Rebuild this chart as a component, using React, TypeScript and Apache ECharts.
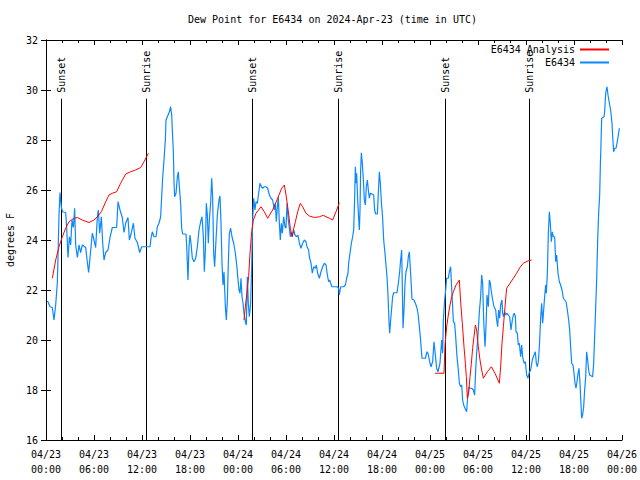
import React, { useEffect, useRef } from "react";
import * as echarts from "echarts";

// hours since 2024-04-23 00:00 UTC, dew point in degrees F
const stationObs: [number, number][] = [
  [0.1, 21.55], [0.25, 21.53], [0.5, 21.33], [0.79, 21.3], [1.0, 20.8], [1.21, 21.4], [1.42, 22.3],
  [1.625, 25.0], [1.75, 25.9], [1.92, 25.3], [2.08, 25.13], [2.46, 25.1], [2.58, 24.5], [2.75, 23.3],
  [2.92, 24.13], [3.08, 23.8], [3.25, 24.8], [3.42, 24.5], [3.58, 25.27], [3.71, 23.8], [3.92, 23.3],
  [4.125, 23.8], [4.33, 23.5], [4.54, 23.8], [4.96, 23.7], [5.17, 23.1], [5.33, 22.7], [5.5, 23.3],
  [5.79, 24.27], [6.0, 24.0], [6.21, 23.7], [6.42, 24.93], [6.54, 25.2], [6.71, 24.27], [6.92, 24.93],
  [7.08, 23.9], [7.25, 23.2], [7.46, 23.5], [7.75, 23.6], [8.0, 24.1], [8.29, 24.5], [8.58, 24.5],
  [8.83, 24.5], [9.0, 25.53], [9.25, 25.2], [9.54, 24.9], [9.75, 24.3], [9.96, 24.67], [10.25, 24.9],
  [10.42, 24.0], [10.67, 24.3], [10.92, 24.67], [11.125, 24.07], [11.42, 23.9], [11.71, 23.5],
  [11.96, 23.73], [12.58, 23.73], [13.0, 23.73], [13.125, 24.07], [13.29, 24.33], [13.5, 24.13],
  [13.75, 24.13], [13.92, 24.53], [14.125, 24.67], [14.33, 24.93], [14.46, 25.73], [14.58, 26.47],
  [14.75, 27.2], [14.92, 28.0], [15.0, 28.8], [15.17, 28.93], [15.42, 29.13], [15.58, 29.33],
  [15.71, 29.0], [15.79, 28.4], [15.92, 27.53], [16.0, 26.33], [16.08, 25.73], [16.25, 25.87],
  [16.42, 26.53], [16.54, 26.73], [16.67, 26.13], [16.83, 25.47], [16.96, 24.47], [17.08, 24.24],
  [17.5, 24.24], [17.58, 23.8], [17.75, 22.4], [17.875, 23.73], [18.0, 24.2], [18.125, 23.87],
  [18.29, 23.27], [18.5, 23.13], [18.71, 23.27], [18.92, 23.73], [19.125, 24.4], [19.33, 24.73],
  [19.5, 24.93], [19.67, 24.13], [19.79, 22.73], [19.92, 23.6], [20.04, 25.47], [20.17, 25.0],
  [20.29, 23.87], [20.42, 24.8], [20.58, 25.47], [20.71, 26.47], [20.83, 25.73], [20.96, 23.47],
  [21.08, 22.93], [21.25, 24.0], [21.42, 25.0], [21.625, 25.6], [21.75, 25.76], [21.875, 24.67],
  [22.0, 23.07], [22.125, 22.2], [22.25, 22.73], [22.42, 21.33], [22.54, 20.8], [22.67, 21.6],
  [22.79, 23.07], [22.92, 24.27], [23.08, 24.47], [23.25, 24.13], [23.46, 23.87], [23.67, 23.47],
  [23.875, 22.9], [24.0, 22.4], [24.125, 22.0], [24.25, 21.87], [24.375, 22.47], [24.5, 21.73],
  [24.625, 21.47], [24.75, 21.07], [24.92, 20.73], [25.04, 20.6], [25.17, 22.53], [25.29, 21.47],
  [25.42, 20.93], [25.58, 21.47], [25.71, 22.93], [25.83, 24.8], [25.96, 25.67], [26.125, 25.2],
  [26.25, 25.53], [26.42, 25.47], [26.58, 25.87], [26.75, 26.27], [26.92, 26.13], [27.08, 26.07],
  [27.29, 26.13], [27.5, 26.13], [27.71, 26.07], [27.92, 25.8], [28.125, 25.67], [28.33, 25.6],
  [28.54, 25.2], [28.67, 25.47], [28.79, 24.73], [28.92, 25.33], [29.04, 25.73], [29.17, 24.67],
  [29.29, 24.0], [29.42, 24.67], [29.54, 24.27], [29.71, 24.93], [29.875, 24.53], [30.0, 24.47],
  [30.125, 25.47], [30.29, 24.8], [30.42, 24.47], [30.54, 24.13], [30.67, 24.33], [30.79, 24.13],
  [30.96, 24.4], [31.125, 24.2], [31.33, 24.13], [31.5, 24.2], [31.67, 23.87], [31.875, 23.67],
  [32.08, 23.87], [32.29, 24.0], [32.5, 23.93], [32.625, 23.73], [32.83, 23.6], [32.92, 23.33],
  [33.125, 23.07], [33.29, 22.67], [33.46, 22.93], [33.67, 22.87], [33.79, 23.0], [33.96, 22.67],
  [34.17, 22.47], [34.375, 22.73], [34.58, 22.93], [34.79, 23.07], [35.0, 23.0], [35.17, 22.6],
  [35.33, 22.33], [35.46, 22.4], [35.58, 22.27], [35.75, 22.13], [36.375, 22.13], [36.58, 22.07],
  [36.67, 21.8], [36.83, 22.13], [37.21, 22.13], [37.42, 22.2], [37.58, 22.47], [37.75, 22.67],
  [37.83, 23.07], [38.0, 23.47], [38.17, 23.87], [38.33, 24.13], [38.46, 24.4], [38.58, 25.67],
  [38.67, 26.93], [38.75, 26.27], [38.83, 26.67], [38.96, 25.6], [39.08, 24.87], [39.17, 24.4],
  [39.25, 25.2], [39.33, 26.8], [39.42, 27.49], [39.54, 27.07], [39.67, 26.4], [39.79, 25.6],
  [39.92, 25.4], [40.04, 26.13], [40.17, 26.4], [40.29, 26.0], [40.42, 25.67], [40.54, 25.87],
  [40.75, 25.84], [40.96, 25.8], [41.08, 25.2], [41.21, 25.04], [41.42, 25.04], [41.54, 25.87],
  [41.67, 26.73], [41.79, 26.27], [41.92, 25.53], [42.08, 24.87], [42.21, 24.0], [42.375, 23.47],
  [42.5, 23.0], [42.625, 22.53], [42.75, 21.8], [42.875, 20.73], [42.96, 20.27], [43.08, 20.8],
  [43.21, 21.27], [43.33, 21.73], [43.46, 21.89], [43.875, 21.89], [44.04, 22.27], [44.21, 22.73],
  [44.33, 23.2], [44.46, 23.6], [44.54, 22.13], [44.625, 20.47], [44.75, 21.2], [44.875, 22.27],
  [45.0, 22.73], [45.17, 22.93], [45.29, 23.33], [45.42, 23.53], [45.54, 22.87], [45.67, 22.13],
  [45.75, 21.63], [46.0, 21.6], [46.17, 21.47], [46.33, 21.33], [46.5, 21.07], [46.67, 20.53],
  [46.79, 20.13], [46.92, 19.6], [47.0, 19.27], [47.42, 19.27], [47.625, 19.53], [47.75, 19.47],
  [47.92, 19.2], [48.0, 19.07], [48.125, 18.93], [48.33, 19.13], [48.5, 19.93], [48.67, 19.4],
  [48.83, 18.87], [49.0, 18.73], [49.25, 19.07], [49.46, 20.0], [49.58, 19.47], [49.67, 20.8],
  [49.83, 21.6], [49.96, 22.0], [50.08, 22.47], [50.29, 22.47], [50.42, 22.73], [50.58, 22.93],
  [50.71, 22.07], [50.92, 20.73], [51.08, 20.67], [51.21, 20.13], [51.375, 19.33], [51.54, 18.8],
  [51.67, 18.27], [51.83, 18.13], [51.96, 18.2], [52.08, 17.6], [52.21, 17.4], [52.375, 17.27],
  [52.58, 17.13], [52.71, 17.73], [52.875, 18.13], [53.0, 18.07], [53.21, 18.07], [53.42, 18.0],
  [53.58, 17.8], [53.71, 18.8], [53.83, 19.47], [54.0, 20.2], [54.17, 21.13], [54.33, 21.73],
  [54.46, 22.6], [54.58, 22.27], [54.71, 20.8], [54.875, 19.73], [55.0, 20.53], [55.125, 21.8],
  [55.29, 21.33], [55.42, 22.4], [55.54, 22.27], [55.67, 21.93], [55.83, 21.6], [56.0, 21.33],
  [56.21, 21.2], [56.33, 20.8], [56.46, 20.53], [56.58, 21.2], [56.71, 20.87], [56.83, 21.4],
  [57.0, 21.6], [57.08, 21.07], [57.21, 20.93], [57.33, 21.13], [57.46, 21.0], [57.58, 21.07],
  [57.79, 21.0], [57.96, 20.93], [58.125, 20.4], [58.29, 20.8], [58.42, 21.0], [58.54, 21.07],
  [58.67, 20.93], [58.75, 20.33], [58.92, 20.27], [59.04, 19.8], [59.17, 19.87], [59.33, 19.33],
  [59.46, 19.8], [59.58, 19.33], [59.75, 19.07], [59.92, 19.13], [60.08, 18.6], [60.25, 18.47],
  [60.375, 18.67], [60.58, 18.8], [60.79, 19.2], [61.0, 19.4], [61.17, 19.53], [61.29, 19.07],
  [61.42, 18.93], [61.54, 19.13], [61.67, 19.73], [61.83, 20.87], [61.96, 21.47], [62.08, 20.67],
  [62.21, 21.2], [62.33, 21.73], [62.46, 22.2], [62.54, 21.87], [62.67, 22.67], [62.79, 24.27],
  [62.92, 25.13], [63.04, 24.67], [63.17, 23.93], [63.29, 24.33], [63.42, 24.13], [63.58, 24.13],
  [63.71, 23.13], [63.83, 23.4], [64.0, 22.67], [64.17, 22.33], [64.33, 22.2], [64.5, 22.0],
  [64.67, 21.67], [64.83, 21.6], [65.0, 21.53], [65.17, 21.2], [65.33, 20.8], [65.46, 20.4],
  [65.58, 19.73], [65.71, 19.07], [65.875, 19.0], [66.0, 18.67], [66.125, 18.27], [66.25, 18.07],
  [66.375, 18.33], [66.5, 18.67], [66.625, 18.87], [66.75, 18.27], [66.875, 17.4], [66.96, 16.87],
  [67.08, 17.0], [67.21, 17.33], [67.33, 18.0], [67.46, 18.53], [67.58, 19.53], [67.71, 19.2],
  [67.83, 18.8], [67.96, 18.6], [68.33, 18.53], [68.46, 19.07], [68.58, 20.13], [68.71, 21.33],
  [68.83, 22.4], [68.96, 24.0], [69.08, 25.07], [69.21, 25.8], [69.29, 26.93], [69.375, 27.87],
  [69.46, 28.87], [69.75, 28.93], [69.83, 29.13], [69.96, 29.87], [70.125, 30.13], [70.25, 29.8],
  [70.42, 29.47], [70.58, 29.2], [70.75, 28.67], [70.875, 27.93], [70.96, 27.53], [71.08, 27.67],
  [71.25, 27.67], [71.375, 27.87], [71.54, 28.2], [71.67, 28.47],
];

const analysisDay1: [number, number][] = [
  [0.79, 22.47], [1.21, 23.2], [1.625, 23.73], [2.04, 24.13], [2.46, 24.47], [2.875, 24.73],
  [3.5, 24.87], [3.92, 24.9], [4.54, 24.8], [5.375, 24.7], [6.0, 24.8], [6.42, 24.93],
  [6.92, 25.13], [7.46, 25.53], [7.875, 25.8], [8.29, 25.87], [8.83, 25.93], [9.33, 26.27],
  [9.96, 26.64], [10.58, 26.73], [11.2, 26.8], [11.83, 26.9], [12.25, 27.13], [12.8, 27.47],
];
const analysisDay2: [number, number][] = [
  [24.75, 20.8], [24.92, 21.33], [25.33, 22.53], [25.5, 23.47], [25.71, 24.33], [25.92, 24.8],
  [26.25, 25.07], [26.875, 25.33], [27.29, 25.13], [27.71, 24.87], [28.33, 25.2], [28.96, 25.67],
  [29.46, 26.07], [29.79, 26.2], [30.0, 25.8], [30.21, 25.33], [30.42, 24.8], [30.54, 24.47],
  [30.75, 24.13], [30.92, 24.4], [31.17, 24.73], [31.46, 25.13], [31.79, 25.47], [32.08, 25.33],
  [32.5, 25.07], [32.92, 24.96], [33.54, 24.9], [34.17, 24.93], [34.67, 24.99], [35.0, 24.93],
  [35.42, 24.87], [35.83, 24.8], [36.25, 25.13], [36.67, 25.49],
];
const analysisDay3: [number, number][] = [
  [48.625, 18.67], [49.75, 18.67], [49.875, 19.8], [50.08, 20.53], [50.29, 21.0], [50.5, 21.4],
  [50.71, 21.73], [50.92, 21.93], [51.25, 22.2], [51.67, 22.4], [51.83, 21.53], [52.04, 20.67],
  [52.25, 19.73], [52.42, 19.07], [52.54, 18.53], [52.67, 17.67], [52.83, 17.87], [53.0, 18.53],
  [53.17, 19.07], [53.33, 19.67], [53.5, 20.13], [53.67, 20.6], [53.83, 20.4], [54.04, 19.73],
  [54.25, 19.2], [54.46, 18.8], [54.67, 18.47], [55.17, 18.73], [55.67, 18.93], [56.125, 18.67],
  [56.67, 18.27], [56.83, 18.93], [57.0, 19.87], [57.17, 20.53], [57.375, 21.33], [57.58, 22.07],
  [58.0, 22.27], [58.42, 22.47], [58.83, 22.67], [59.25, 22.91], [59.67, 23.07], [60.29, 23.17],
  [60.71, 23.2],
];

const sunTimes = [1.92, 12.54, 25.79, 36.44, 49.83, 60.42];
const sunLabels = ["Sunset", "Sunrise", "Sunset", "Sunrise", "Sunset", "Sunrise"];
const sunLineTop = 29.65;

const yTicks = { min: 16, max: 32, step: 2 };
const xRange = { min: 0, max: 72, step: 6 };
const startDateUTC = Date.UTC(2024, 3, 23);

const titleText = "Dew Point for E6434 on 2024-Apr-23 (time in UTC)";
const seriesNames = ["E6434 Analysis", "E6434"];

const MONO = "DejaVu Sans Mono";
const BLUE = "#0c88ff";
const RED = "#ff0000";

function joinSegments(segs: [number, number][][]): (number | string)[][] {
  const out: (number | string)[][] = [];
  segs.forEach((s, i) => {
    if (i > 0) {
      const prev = segs[i - 1];
      out.push([(prev[prev.length - 1][0] + s[0][0]) / 2, "-"]);
    }
    s.forEach((p) => out.push(p));
  });
  return out;
}

function xLabel(v: number): string {
  const d = new Date(startDateUTC + v * 3600 * 1000);
  const mm = String(d.getUTCMonth() + 1).padStart(2, "0");
  const dd = String(d.getUTCDate()).padStart(2, "0");
  const hh = String(d.getUTCHours()).padStart(2, "0");
  const mi = String(d.getUTCMinutes()).padStart(2, "0");
  return `${mm}/${dd}\n${hh}:${mi}`;
}

export default function App() {
  const ref = useRef<HTMLDivElement>(null);
  useEffect(() => {
    if (!ref.current) return;
    const chart = echarts.init(ref.current, null, { renderer: "svg" });
    const axisCommon = {
      type: "value" as const,
      axisLine: { show: true, lineStyle: { color: "#000", width: 1 } },
      splitLine: { show: false },
    };
    const tick = { show: true, inside: true, length: 5, lineStyle: { color: "#000" } };
    const minor = { show: true, splitNumber: 3, length: 3, lineStyle: { color: "#000" } };
    const option: any = {
      animation: false,
      backgroundColor: "#fff",
      textStyle: { fontFamily: MONO, fontSize: 10, color: "#000" },
      title: {
        text: titleText,
        left: 188,
        top: 14,
        padding: 0,
        textStyle: { fontFamily: MONO, fontSize: 10, fontWeight: "normal", color: "#000" },
      },
      legend: {
        data: seriesNames,
        orient: "vertical",
        right: 30,
        top: 44,
        align: "right",
        padding: 0,
        itemWidth: 29,
        itemHeight: 11,
        itemGap: 2,
        itemStyle: { opacity: 0 },
        textStyle: { fontFamily: MONO, fontSize: 10, color: "#000", lineHeight: 11 },
      },
      grid: { left: 46, right: 18, top: 40, bottom: 40, outerBoundsMode: "none", containLabel: false },
      xAxis: [
        {
          ...axisCommon,
          position: "bottom",
          min: xRange.min,
          max: xRange.max,
          interval: xRange.step,
          axisTick: tick,
          minorTick: minor,
          axisLabel: {
            formatter: xLabel,
            margin: 7,
            lineHeight: 15,
            fontFamily: MONO,
            fontSize: 10,
            color: "#000",
          },
        },
        {
          ...axisCommon,
          position: "top",
          min: xRange.min,
          max: xRange.max,
          interval: xRange.step,
          axisTick: tick,
          minorTick: minor,
          axisLabel: { show: false },
        },
      ],
      yAxis: [
        {
          ...axisCommon,
          position: "left",
          min: yTicks.min,
          max: yTicks.max,
          interval: yTicks.step,
          axisTick: tick,
          axisLabel: { margin: 8, fontFamily: MONO, fontSize: 10, color: "#000" },
          name: "degrees F",
          nameLocation: "middle",
          nameGap: 31,
          nameRotate: 90,
          nameTextStyle: { fontFamily: MONO, fontSize: 10, color: "#000" },
        },
        {
          ...axisCommon,
          position: "right",
          min: yTicks.min,
          max: yTicks.max,
          interval: yTicks.step,
          axisTick: tick,
          axisLabel: { show: false },
        },
      ],
      series: [
        {
          type: "custom",
          name: "sun",
          xAxisIndex: 0,
          yAxisIndex: 0,
          silent: true,
          data: sunTimes.map((t) => [t]),
          renderItem: (params: any, api: any) => {
            const t = api.value(0);
            const p0 = api.coord([t, yTicks.min]);
            const p1 = api.coord([t, sunLineTop]);
            const x = Math.round(p0[0]) + 0.5;
            return {
              type: "group",
              children: [
                {
                  type: "line",
                  shape: { x1: x, y1: p0[1], x2: x, y2: p1[1] },
                  style: { stroke: "#000", lineWidth: 1 },
                },
                {
                  type: "text",
                  x: x,
                  y: p1[1] - 6,
                  rotation: Math.PI / 2,
                  style: {
                    text: sunLabels[params.dataIndex],
                    align: "left",
                    verticalAlign: "middle",
                    fontFamily: MONO,
                    fontSize: 10,
                    fill: "#000",
                  },
                },
              ],
            };
          },
          z: 1,
        },
        {
          type: "line",
          name: seriesNames[0],
          data: joinSegments([analysisDay1, analysisDay2, analysisDay3]),
          symbol: "none",
          connectNulls: false,
          lineStyle: { color: RED, width: 1 },
          itemStyle: { color: RED },
          z: 3,
        },
        {
          type: "line",
          name: seriesNames[1],
          data: stationObs,
          symbol: "none",
          lineStyle: { color: BLUE, width: 1.2 },
          itemStyle: { color: BLUE },
          z: 2,
        },
      ],
    };
    chart.setOption(option);
    return () => chart.dispose();
  }, []);
  return (
    <div
      ref={ref}
      style={{ position: "fixed", left: 0, top: 0, width: 640, height: 480, background: "#fff" }}
    />
  );
}
